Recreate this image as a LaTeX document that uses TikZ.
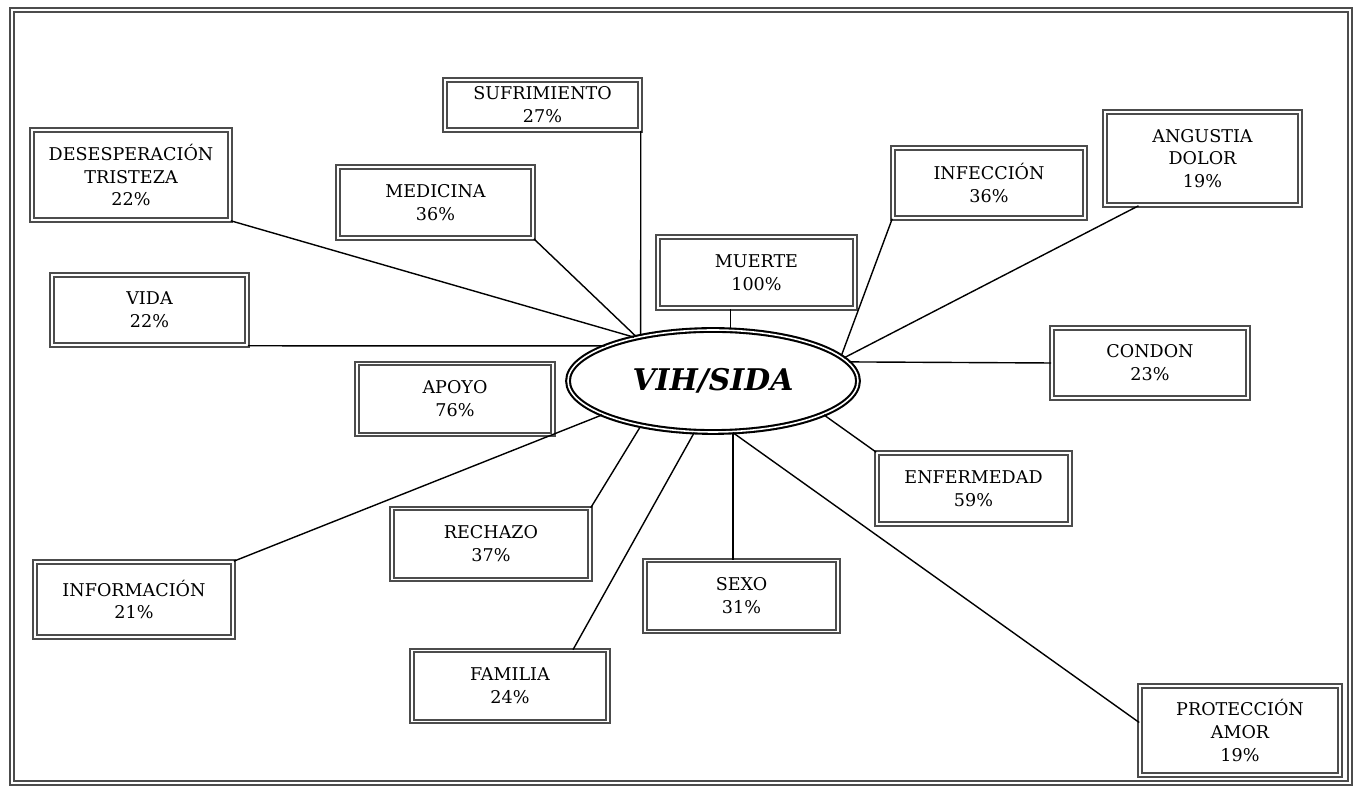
\documentclass[tikz,border=0pt]{standalone}
\usepackage{fontspec}
\setmainfont{DejaVu Serif}
\usetikzlibrary{shapes.geometric}
\begin{document}
\begin{tikzpicture}[
    box/.style={draw=black!70, double, double distance=1.1pt, line width=0.9pt,
        align=center, minimum width=3.9cm, minimum height=1.42cm, inner sep=1pt,
        font=\fontsize{10}{13}\selectfont},
    link/.style={line width=0.8pt}]
    \useasboundingbox (0,0) rectangle (27.16,15.82);
    \draw[draw=black!70, double, double distance=1.5pt, line width=1.2pt] (0.24,0.16) rectangle (27.0,15.62);

    \node[draw, double, double distance=0.9pt, line width=1.2pt, ellipse, minimum width=5.8cm, minimum height=2.04cm,
        font=\fontsize{17}{20}\selectfont\bfseries\itshape] (vih) at (14.26,8.20) {VIH/SIDA};

    \node[box, minimum height=1cm] (sufr) at (10.85,13.72) {SUFRIMIENTO\\27\%};
    \node[box, minimum width=3.96cm, minimum height=1.8cm] (desesp) at (2.62,12.32) {DESESPERACIÓN\\TRISTEZA\\22\%};
    \node[box] (medicina) at (8.71,11.77) {MEDICINA\\36\%};
    \node[box, minimum width=3.84cm, minimum height=1.4cm] (infeccion) at (19.78,12.16) {INFECCIÓN\\36\%};
    \node[box, minimum height=1.86cm] (angustia) at (24.05,12.65) {ANGUSTIA\\DOLOR\\19\%};
    \node[box, minimum width=3.94cm] (muerte) at (15.13,10.37) {MUERTE\\100\%};
    \node[box, minimum height=1.4cm] (vida) at (2.99,9.62) {VIDA\\22\%};
    \node[box, minimum width=3.92cm, minimum height=1.4cm] (condon) at (23.0,8.56) {CONDON\\23\%};
    \node[box, minimum width=3.92cm] (apoyo) at (9.10,7.84) {APOYO\\76\%};
    \node[box, minimum width=3.86cm] (enfermedad) at (19.47,6.05) {ENFERMEDAD\\59\%};
    \node[box, minimum width=3.96cm] (rechazo) at (9.82,4.94) {RECHAZO\\37\%};
    \node[box, minimum width=3.96cm, minimum height=1.5cm] (informacion) at (2.68,3.83) {INFORMACIÓN\\21\%};
    \node[box, minimum width=3.86cm] (sexo) at (14.83,3.90) {SEXO\\31\%};
    \node[box, minimum width=3.92cm] (familia) at (10.20,2.10) {FAMILIA\\24\%};
    \node[box, minimum width=4cm, minimum height=1.78cm] (proteccion) at (24.80,1.21) {PROTECCIÓN\\AMOR\\19\%};

    \draw[link] (sufr.south east) -- (vih.148);
    \draw[link] (desesp.south east) -- (vih.151);
    \draw[link] (medicina.south east) -- (vih.150);
    \draw[link] (vida.south east) -- (vih.162);
    \draw[link] (vih.71) -- (vih.71 |- muerte.south);
    \draw[link] (infeccion.south west) -- (vih.11);
    \draw[link] ([xshift=-1.28cm]angustia.south) -- (vih.10);
    \draw[link] (vih.8) -- (condon.west);
    \draw[link] (enfermedad.north west) -- (vih.343);
    \draw[link] (rechazo.north east) -- (vih.212);
    \draw[link] (informacion.north east) -- (vih.197);
    \draw[link] ([xshift=1.26cm]familia.north) -- (vih.250);
    \draw[link] (vih.291) -- (vih.291 |- sexo.north);
    \draw[link] (vih.291) -- ([yshift=0.16cm]proteccion.west);
\end{tikzpicture}
\end{document}
